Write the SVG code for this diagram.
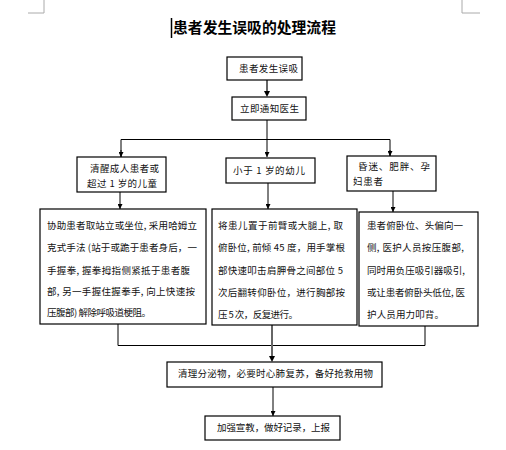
<svg xmlns="http://www.w3.org/2000/svg" width="506" height="450" viewBox="0 0 506 450">
<style>
.box{fill:#fff;stroke:#000;stroke-width:1.2}
.t{font-family:"Noto Sans CJK SC","Liberation Sans",sans-serif;font-size:9.5px;fill:#111}
.ln{fill:none;stroke:#000;stroke-width:1}
.gl{fill:none;stroke:#666;stroke-width:2}
.mark{fill:none;stroke:#aaa;stroke-width:1}
</style>
<defs>
<marker id="ah" viewBox="0 0 10 10" refX="10" refY="5" markerWidth="5" markerHeight="5" orient="auto" markerUnits="userSpaceOnUse">
<path d="M0,0 L10,5 L0,10 z" fill="#000"/>
</marker>
</defs>
<rect width="506" height="450" fill="#fff"/>
<g id="marks">
<path class="mark" d="M44,0 V13 H28"/>
<path class="mark" d="M462,0 V13 H480"/>
</g>
<g id="title">
<line x1="171.5" y1="18" x2="171.5" y2="38" stroke="#000" stroke-width="1.5"/>
<text x="173" y="33" font-family="'Noto Sans CJK SC',sans-serif" font-size="15" font-weight="bold" textLength="163" lengthAdjust="spacingAndGlyphs">患者发生误吸的处理流程</text>
</g>
<g id="connectors">
<line class="gl" x1="267" y1="80" x2="267" y2="91"/>
<path d="M264,91 L270,91 L267,97 z" fill="#000"/>
<line class="ln" x1="267" y1="120" x2="267" y2="157" marker-end="url(#ah)"/>
<path class="ln" d="M121,157 V139.5 H390 V156" />
<line class="ln" x1="121" y1="150" x2="121" y2="157" marker-end="url(#ah)"/>
<line class="ln" x1="390" y1="150" x2="390" y2="156" marker-end="url(#ah)"/>
<line class="ln" x1="120" y1="192" x2="120" y2="209" marker-end="url(#ah)"/>
<line class="ln" x1="268" y1="183" x2="268" y2="209" marker-end="url(#ah)"/>
<line class="ln" x1="393" y1="191" x2="393" y2="212" marker-end="url(#ah)"/>
<path class="ln" d="M118,324 V345.5 H425 V326"/>
<line class="gl" x1="272" y1="325" x2="272" y2="356"/>
<path d="M269,356 L275,356 L272,362 z" fill="#000"/>
<line class="ln" x1="273" y1="387" x2="273" y2="416" marker-end="url(#ah)"/>
</g>
<g id="n1"><rect class="box" x="227" y="57" width="75" height="23"/>
<text class="t" x="239" y="72" textLength="59">患者发生误吸</text></g>
<g id="n2"><rect class="box" x="232" y="97" width="74" height="23"/>
<text class="t" x="240" y="112" textLength="59">立即通知医生</text></g>
<g id="n3"><rect class="box" x="77" y="157" width="89" height="35"/>
<text class="t" x="90" y="172" textLength="69">清醒成人患者或</text>
<text class="t" x="87" y="187" textLength="70">超过 1 岁的儿童</text></g>
<g id="n4"><rect class="box" x="226" y="158" width="89" height="25"/>
<text class="t" x="233" y="174" textLength="72">小于 1 岁的幼儿</text></g>
<g id="n5"><rect class="box" x="347" y="156" width="89" height="35"/>
<text class="t" x="358" y="170" textLength="72">昏迷、肥胖、孕</text>
<text class="t" x="353" y="185" textLength="30">妇患者</text></g>
<g id="n6"><rect class="box" x="40" y="209" width="166" height="115"/>
<text class="t" x="47" y="229" textLength="150">协助患者取站立或坐位, 采用哈姆立</text>
<text class="t" x="47" y="251" textLength="150">克式手法 (站于或跪于患者身后，一</text>
<text class="t" x="47" y="274" textLength="143">手握拳, 握拳拇指侧紧抵于患者腹</text>
<text class="t" x="47" y="295" textLength="148">部, 另一手握住握拳手, 向上快速按</text>
<text class="t" x="47" y="316" textLength="104">压腹部) 解除呼吸道梗阻。</text></g>
<g id="n7"><rect class="box" x="212" y="209" width="145" height="116"/>
<text class="t" x="218" y="229" textLength="125">将患儿置于前臂或大腿上, 取</text>
<text class="t" x="218" y="251" textLength="127">俯卧位, 前倾 45 度，用手掌根</text>
<text class="t" x="218" y="274" textLength="125">部快速叩击肩胛骨之间部位 5</text>
<text class="t" x="218" y="296" textLength="127">次后翻转仰卧位，进行胸部按</text>
<text class="t" x="218" y="318" textLength="80">压 5 次，反复进行。</text></g>
<g id="n8"><rect class="box" x="359" y="212" width="119" height="114"/>
<text class="t" x="367" y="229" textLength="96">患者俯卧位、头偏向一</text>
<text class="t" x="367" y="251" textLength="97">侧, 医护人员按压腹部,</text>
<text class="t" x="367" y="274" textLength="98">同时用负压吸引器吸引,</text>
<text class="t" x="367" y="296" textLength="98">或让患者俯卧头低位, 医</text>
<text class="t" x="367" y="318" textLength="77">护人员用力叩背。</text></g>
<g id="n9"><rect class="box" x="167" y="362" width="215" height="25"/>
<text class="t" x="178" y="377" textLength="195">清理分泌物，必要时心肺复苏，备好抢救用物</text></g>
<g id="n10"><rect class="box" x="205" y="416" width="135" height="24"/>
<text class="t" x="217" y="431" textLength="113">加强宣教，做好记录，上报</text></g>
</svg>
